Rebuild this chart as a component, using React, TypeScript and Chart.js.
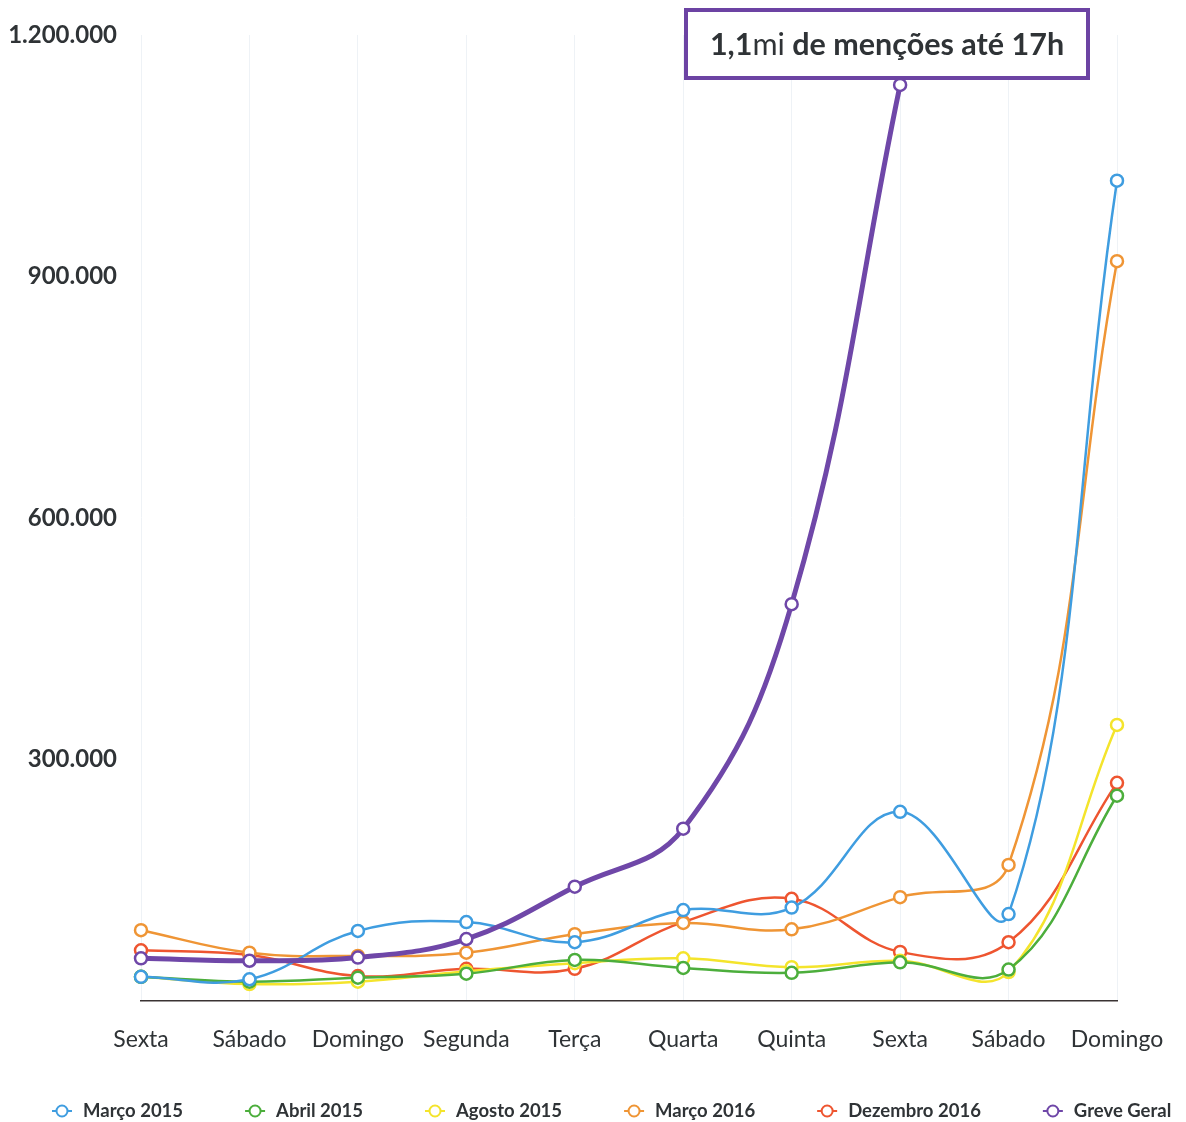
import React, { useEffect, useRef } from 'react';
import { Chart, registerables } from 'chart.js';

Chart.register(...registerables);

const categories = ['Sexta', 'Sábado', 'Domingo', 'Segunda', 'Terça', 'Quarta', 'Quinta', 'Sexta', 'Sábado', 'Domingo'];
const marco2015 = [30000, 27000, 87000, 98000, 73000, 113000, 116000, 235000, 108000, 1019000];
const abril2015 = [30000, 24000, 29000, 34000, 51000, 41000, 35000, 48000, 39000, 255000];
const agosto2015 = [30000, 21000, 24000, 37000, 47000, 53000, 42000, 50000, 36000, 343000];
const marco2016 = [88000, 60000, 56000, 60000, 83000, 97000, 89000, 129000, 169000, 919000];
const dezembro2016 = [63000, 57000, 31000, 40000, 40000, 98000, 127000, 61000, 73000, 271000];
const greveGeral = [53000, 50000, 54000, 77000, 142000, 214000, 493000, 1138000, null, null];
const yTicks = [0, 300000, 600000, 900000, 1200000];
const seriesNames = ['Março 2015', 'Abril 2015', 'Agosto 2015', 'Março 2016', 'Dezembro 2016', 'Greve Geral'];
const seriesColors = ['#3f9de0', '#4cae3c', '#f4e42c', '#ef9535', '#ee5530', '#6f47a8'];
const titleParts = [
  { text: '1,1', weight: '700' },
  { text: 'mi', weight: '400' },
  { text: ' de menções até 17h', weight: '700' },
];

const FONT = 'Lato, "Open Sans", sans-serif';
const TEXT = '#2f3336';

function fmt(v: number): string {
  return String(v).replace(/\B(?=(\d{3})+(?!\d))/g, '.');
}

const overlayPlugin = {
  id: 'overlay',
  afterDraw(chart: any) {
    const ctx = chart.ctx as CanvasRenderingContext2D;
    // title box
    ctx.save();
    const bx = 678, by = 2, bw = 402, bh = 68;
    ctx.fillStyle = '#ffffff';
    ctx.fillRect(bx, by, bw, bh);
    ctx.strokeStyle = '#6c43a3';
    ctx.lineWidth = 4;
    ctx.strokeRect(bx, by, bw, bh);
    let total = 0;
    const size = 30.5;
    titleParts.forEach((p) => {
      ctx.font = `${p.weight} ${size}px ${FONT}`;
      total += ctx.measureText(p.text).width;
    });
    let tx = bx + bw / 2 - total / 2;
    ctx.fillStyle = TEXT;
    ctx.textBaseline = 'middle';
    ctx.textAlign = 'left';
    titleParts.forEach((p) => {
      ctx.font = `${p.weight} ${size}px ${FONT}`;
      ctx.fillText(p.text, tx, by + bh / 2 + 1);
      tx += ctx.measureText(p.text).width;
    });
    ctx.restore();

    // legend
    ctx.save();
    ctx.font = `700 18.5px ${FONT}`;
    const ly = 1103;
    let lx = 44;
    seriesNames.forEach((name, i) => {
      const c = seriesColors[i];
      ctx.strokeStyle = c;
      ctx.lineWidth = 2;
      ctx.beginPath();
      ctx.moveTo(lx, ly);
      ctx.lineTo(lx + 20, ly);
      ctx.stroke();
      ctx.beginPath();
      ctx.arc(lx + 10, ly, 5.5, 0, Math.PI * 2);
      ctx.fillStyle = '#ffffff';
      ctx.fill();
      ctx.stroke();
      ctx.fillStyle = TEXT;
      ctx.textBaseline = 'middle';
      ctx.textAlign = 'left';
      ctx.fillText(name, lx + 31, ly);
      lx += 31 + ctx.measureText(name).width + 62;
    });
    ctx.restore();
  },
};

export default function App() {
  const ref = useRef<HTMLCanvasElement | null>(null);
  useEffect(() => {
    if (!ref.current) return;
    const all = [marco2015, abril2015, agosto2015, marco2016, dezembro2016, greveGeral];
    const datasets = all.map((d, i) => {
      const isGreve = i === 5;
      return {
        label: seriesNames[i],
        data: d,
        borderColor: seriesColors[i],
        backgroundColor: seriesColors[i],
        borderWidth: isGreve ? 5 : 2.5,
        pointRadius: 6,
        pointHoverRadius: 6,
        pointBorderWidth: 2.5,
        pointBackgroundColor: '#ffffff',
        pointBorderColor: seriesColors[i],
        tension: 0.4,
        fill: false,
        order: isGreve ? 0 : i + 1,
      };
    });
    const chart = new Chart(ref.current, {
      type: 'line',
      data: { labels: categories, datasets: datasets as any },
      plugins: [overlayPlugin],
      options: {
        animation: false,
        responsive: true,
        maintainAspectRatio: false,
        layout: { padding: { top: 27, right: 61, bottom: 69, left: 0 } },
        plugins: {
          legend: { display: false },
          tooltip: { enabled: false },
          title: { display: false },
        },
        scales: {
          x: {
            offset: false,
            grid: { display: true, color: '#eef2f6', lineWidth: 1, drawTicks: false },
            border: { display: true, color: '#3a3333', width: 1.5 },
            ticks: {
              padding: 25,
              color: TEXT,
              font: { family: FONT, size: 23, weight: 400 as any },
              maxRotation: 0,
              autoSkip: false,
            },
            afterFit: (s: any) => { s.height = 52; s.paddingLeft = 0; s.paddingRight = 0; },
          },
          y: {
            min: 0,
            max: 1200000,
            grid: { display: false },
            border: { display: false },
            afterBuildTicks: (s: any) => { s.ticks = yTicks.map((v) => ({ value: v })); },
            ticks: {
              padding: 16,
              color: TEXT,
              font: { family: FONT, size: 24, weight: 700 as any },
              callback: (v: any) => (Number(v) === 0 ? '' : fmt(Number(v))),
            },
            afterFit: (s: any) => { s.width = 133; s.paddingTop = 0; s.paddingBottom = 0; },
          },
        },
      },
    });
    return () => chart.destroy();
  }, []);
  return (
    <div style={{ position: 'relative', width: '100%', height: 1114 }}>
      <canvas ref={ref} />
    </div>
  );
}
